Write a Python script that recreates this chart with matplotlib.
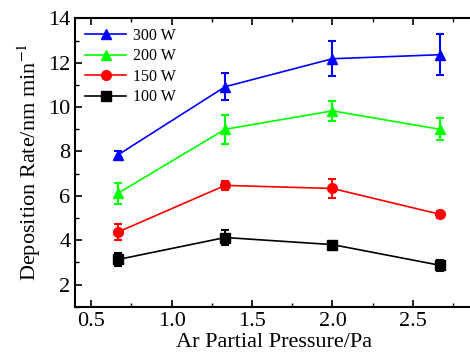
import matplotlib.pyplot as plt
from matplotlib.ticker import MultipleLocator

plt.rcParams['font.family'] = ['Liberation Serif', 'DejaVu Serif']
plt.rcParams['mathtext.fontset'] = 'stix'

# Ar partial pressure (Pa)
pressure = [0.667, 1.333, 2.0, 2.667]

# deposition rate (nm/min) and error bars for each power
rate_300 = [7.85, 10.92, 12.18, 12.36]
err_300 = [0.15, 0.6, 0.8, 0.93]
rate_200 = [6.12, 9.0, 9.83, 9.0]
err_200 = [0.47, 0.65, 0.45, 0.5]
rate_150 = [4.37, 6.47, 6.33, 5.17]
err_150 = [0.35, 0.2, 0.43, 0.15]
rate_100 = [3.13, 4.12, 3.8, 2.87]
err_100 = [0.28, 0.33, 0.1, 0.25]

labels = ['300 W', '200 W', '150 W', '100 W']

fig = plt.figure(figsize=(4.7, 3.6), dpi=100)
ax = fig.add_axes([0.16, 0.148, 0.845, 0.801])

series = [
    (rate_300, err_300, '#0000ff', '^'),
    (rate_200, err_200, '#00ff00', '^'),
    (rate_150, err_150, '#ff0000', 'o'),
    (rate_100, err_100, '#000000', 's'),
]
for (r, e, c, m), lab in zip(series, labels):
    ax.errorbar(pressure, r, yerr=e, fmt='none', ecolor=c,
                elinewidth=1.5, capsize=3, capthick=1.5)
    ax.plot(pressure, r, color=c, marker=m, markersize=7,
            linewidth=1.2, label=lab)

ax.set_xlim(0.4, 2.87)
ax.set_ylim(1, 14)
ax.xaxis.set_major_locator(MultipleLocator(0.5))
ax.xaxis.set_minor_locator(MultipleLocator(0.25))
ax.yaxis.set_major_locator(MultipleLocator(2))
ax.yaxis.set_minor_locator(MultipleLocator(1))
ax.tick_params(which='both', direction='in', top=True, right=False, labelsize=16)
ax.tick_params(which='major', length=5, width=1.2)
ax.tick_params(which='minor', length=3, width=1.0)
for s in ax.spines.values():
    s.set_linewidth(1.5)

ax.set_xlabel('Ar Partial Pressure/Pa', fontsize=16, labelpad=2)
ax.set_ylabel('Deposition Rate/nm min$^{-1}$', fontsize=16, labelpad=4)

ax.legend(loc='upper left', frameon=False, fontsize=11.5, handlelength=2.6,
          labelspacing=0.28, borderaxespad=0.2, handletextpad=0.4)

fig.savefig('out.png', dpi=100)
